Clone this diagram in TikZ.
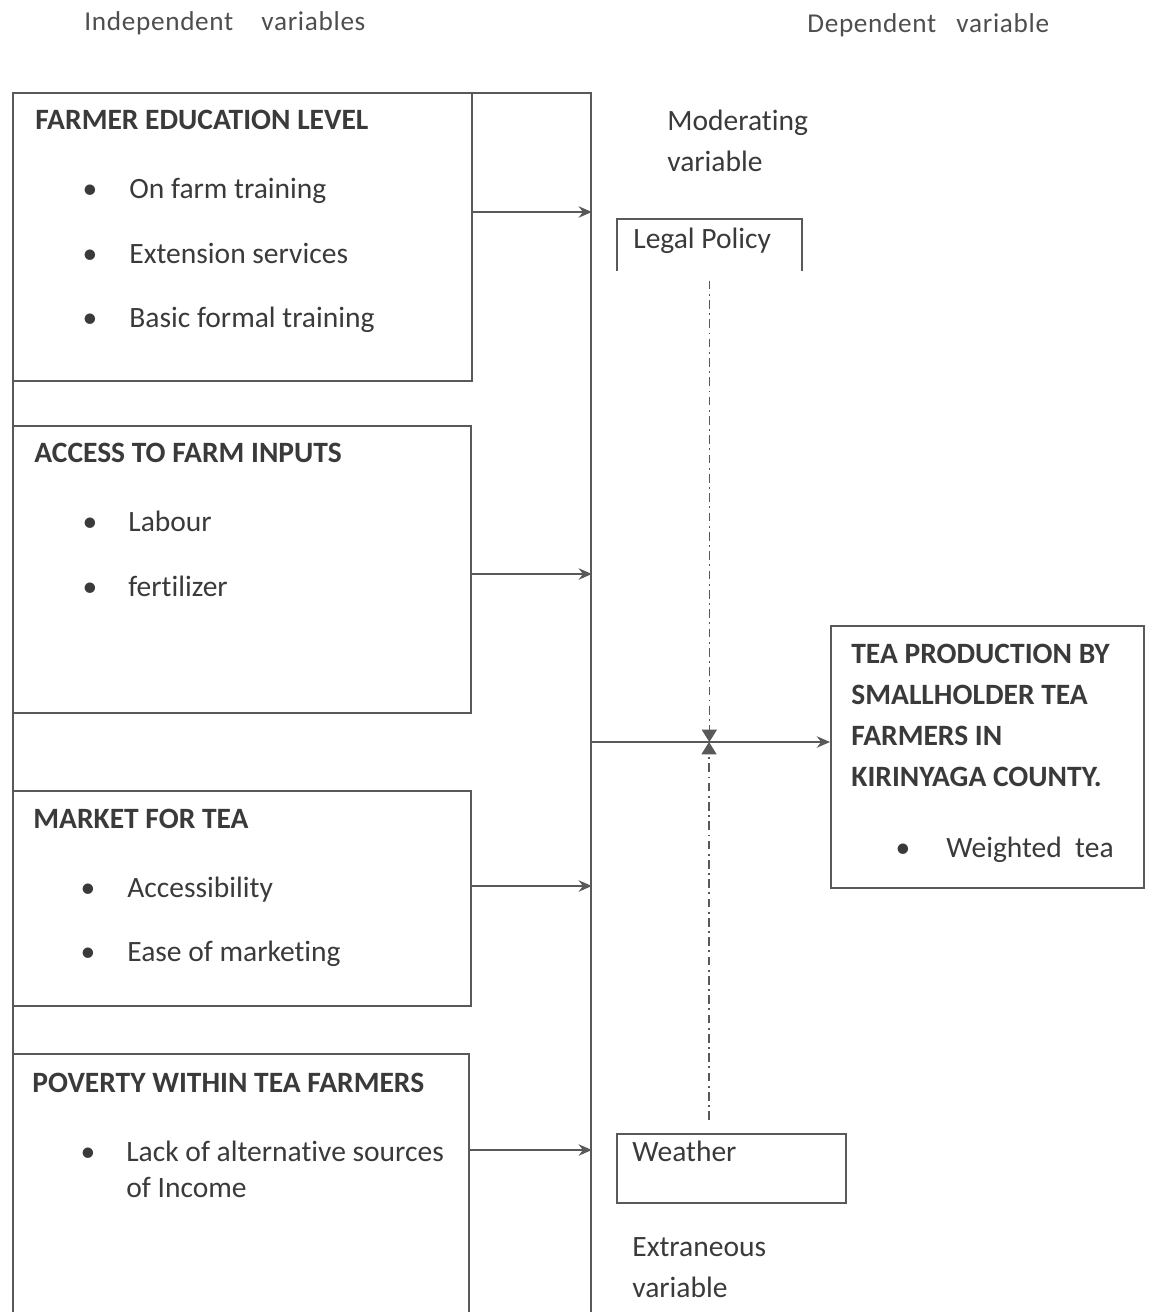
\documentclass[tikz,border=0pt]{standalone}
\usepackage{fontspec}
\setmainfont{Carlito}[Ligatures={NoCommon}]
\newfontfamily\spacedfont{Carlito}[LetterSpace=2.5, Ligatures={NoCommon}]
\usetikzlibrary{arrows.meta}

\definecolor{inkgray}{HTML}{3A3A3A}
\definecolor{toplabel}{HTML}{4E4E4E}
\definecolor{linegray}{HTML}{595959}

\tikzset{
  txt/.style={anchor=west, inner sep=0pt, text height=10.8pt, text depth=0pt, text=inkgray,
    font=\fontsize{16.8}{20}\selectfont},
  head/.style={txt, font=\fontsize{16.8}{20}\selectfont\bfseries},
  side/.style={txt, text=toplabel, text height=10pt, font=\spacedfont\fontsize{15.5}{18}\selectfont},
  dot/.style={inner sep=0pt, text height=10.8pt, text depth=0pt, text=inkgray, font=\fontsize{16.8}{20}\selectfont},
  box/.style={draw=linegray, line width=1.1pt, anchor=north west, inner sep=0pt},
  link/.style={draw=linegray, line width=1.1pt, -{Stealth[length=7.5pt,width=6.5pt]}},
  modlink/.style={draw=linegray, line width=0.9pt, dash pattern=on 5pt off 2.5pt on 1pt off 2.5pt,
    -{Triangle[length=7pt,width=8.5pt]}}
}

\begin{document}
\begin{tikzpicture}[x=0.02cm, y=-0.02cm]
      \useasboundingbox (0,0) rectangle (1153,1312);

      \node(IV) at (84, 22) [side] {Independent\hspace{16pt}variables};
      \node(DV) at (807,24) [side] {Dependent\hspace{11.5pt}variable};

      \node(FR) at (12,92)   [box, minimum width=11.56cm, minimum height=24.52cm] {};
      \node(B1) at (12,92)   [box, minimum width=9.18cm, minimum height=5.76cm] {};
      \node(B2) at (12,425)  [box, minimum width=9.16cm, minimum height=5.74cm] {};
      \node(B3) at (12,790)  [box, minimum width=9.16cm, minimum height=4.30cm] {};
      \node(B4) at (12,1053) [box, minimum width=9.12cm, minimum height=5.30cm] {};

      \node(E0) at (35,120)  [head] {FARMER EDUCATION LEVEL};
      \node(EB1) at (90,189) [dot] {\textbullet};
      \node(EB2) at (90,254) [dot] {\textbullet};
      \node(EB3) at (90,318) [dot] {\textbullet};
      \node(E1) at (129,189) [txt] {On farm training};
      \node(E2) at (129,254) [txt] {Extension services};
      \node(E3) at (129,318) [txt] {Basic formal training};

      \node(A0) at (34,453)  [head] {ACCESS TO FARM INPUTS};
      \node(AB1) at (90,522) [dot] {\textbullet};
      \node(AB2) at (90,587) [dot] {\textbullet};
      \node(A1) at (128,522) [txt] {Labour};
      \node(A2) at (128,587) [txt] {fertilizer};

      \node(M0) at (33,819)  [head] {MARKET FOR TEA};
      \node(MB1) at (88,888) [dot] {\textbullet};
      \node(MB2) at (88,952) [dot] {\textbullet};
      \node(M1) at (127,888) [txt] {Accessibility};
      \node(M2) at (127,952) [txt] {Ease of marketing};

      \node(P0) at (32,1083)  [head] {POVERTY WITHIN TEA FARMERS};
      \node(PB1) at (88,1152) [dot] {\textbullet};
      \node(P1) at (126,1152) [txt] {Lack of alternative sources};
      \node(P2) at (126,1188) [txt] {of Income};

      \node(MV1) at (667,121) [txt] {Moderating};
      \node(MV2) at (667,162) [txt] {variable};
      \node(LP) at (617,219) [anchor=north west, inner sep=0pt, minimum width=3.68cm, minimum height=1.02cm] {};
      \node(LPt) at (633,239) [txt] {Legal Policy};

      \node(DP) at (830,625) [box, minimum width=6.26cm, minimum height=5.24cm] {};
      \node(D1) at (851,654) [head] {TEA PRODUCTION BY};
      \node(D2) at (851,695) [head] {SMALLHOLDER TEA};
      \node(D3) at (851,736) [head] {FARMERS IN};
      \node(D4) at (851,777) [head] {KIRINYAGA COUNTY.};
      \node(DB1) at (903,848) [dot] {\textbullet};
      \node(D5) at (946,848) [txt] {Weighted\ \ tea};

      \node(WE) at (616,1133) [box, minimum width=4.58cm, minimum height=1.38cm] {};
      \node(WEt) at (632,1152) [txt] {Weather};
      \node(XV1) at (632,1247) [txt] {Extraneous};
      \node(XV2) at (632,1288) [txt] {variable};

      \coordinate(J) at (590,742);
      \coordinate(W) at (709,1120);

      \draw[draw=linegray, line width=1.1pt] (LP.south west) -- (LP.north west) -- (LP.north east) -- (LP.south east);

      \draw[link] (B1.east |- 0,212) -- (FR.east |- 0,212);
      \draw[link] (B2.east |- 0,574) -- (FR.east |- 0,574);
      \draw[link] (B3.east |- 0,886) -- (FR.east |- 0,886);
      \draw[link] (B4.east |- 0,1150) -- (FR.east |- 0,1150);
      \draw[link] (J) -- (J -| DP.west);

      \draw[modlink] ([yshift=-0.2cm]LP.south) -- (LP.south |- J);
      \draw[modlink] (W) -- (W |- J);
    \end{tikzpicture}
\end{document}
